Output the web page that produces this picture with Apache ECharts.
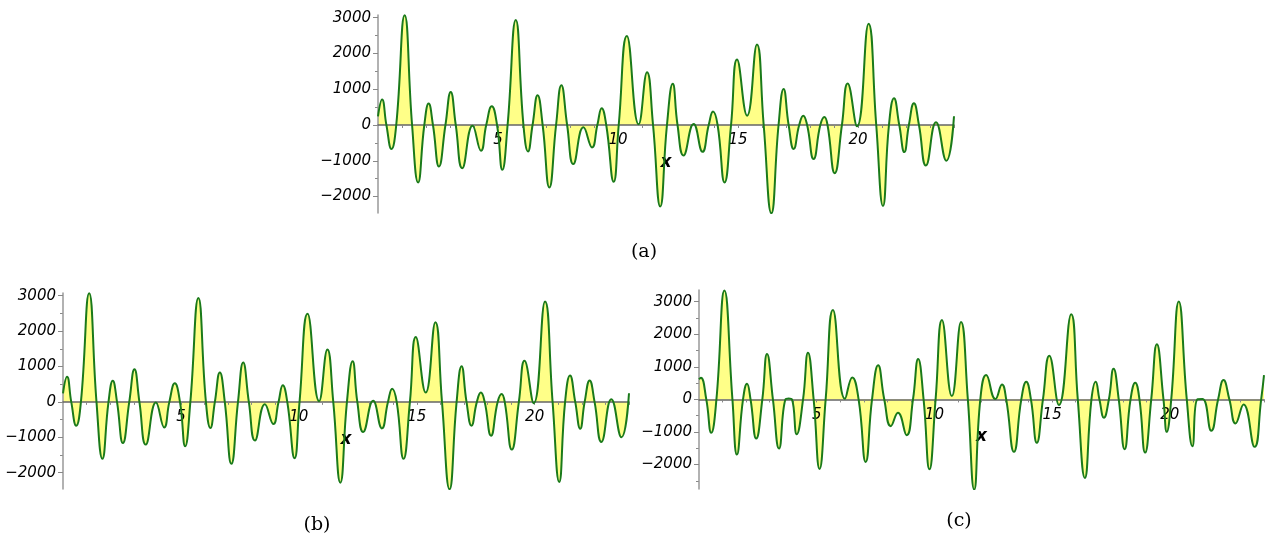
<!DOCTYPE html>
<html><head><meta charset="utf-8">
<script src="https://cdn.jsdelivr.net/npm/echarts@6/dist/echarts.min.js"></script>
<style>html,body{margin:0;padding:0;background:#fff}#c{width:1271px;height:538px}</style>
</head><body><div id="c"></div>
<script>
// Panels (a) and (b): same curve
const hoursAB = [0, 0.17, 0.35, 0.56, 0.76, 1.11, 1.42, 1.67, 1.93, 2.11, 2.29, 2.54, 2.81, 3.03, 3.24, 3.51, 3.94, 4.29, 4.51, 4.74, 4.96, 5.18, 5.40, 5.74, 6.06, 6.25, 6.44, 6.65, 6.86, 7.14, 7.42, 7.64, 7.88, 8.14, 8.56, 8.92, 9.14, 9.32, 9.51, 9.82, 10.03, 10.37, 10.86, 11.21, 11.46, 11.76, 12.04, 12.28, 12.48, 12.73, 13.15, 13.52, 13.78, 13.96, 14.15, 14.44, 14.71, 14.96, 15.38, 15.79, 16.07, 16.39, 16.69, 16.90, 17.11, 17.32, 17.55, 17.72, 17.88, 18.15, 18.43, 18.60, 18.73, 19.03, 19.33, 19.57, 19.96, 20.44, 20.76, 21.04, 21.29, 21.50, 21.72, 21.93, 22.12, 22.33, 22.54, 22.83, 23.25, 23.68, 24];
const valuesAB = [243, 710, 0, -673, 0, 3065, 0, -1607, 0, 598, 0, -1159, 0, 925, 0, -1206, -20, -720, 0, 523, 0, -1252, 0, 2935, 0, -738, 0, 832, 0, -1748, 0, 1112, 0, -1093, -65, -626, 0, 467, 0, -1589, 0, 2486, 20, 1477, 0, -2280, 0, 1150, 0, -850, 30, -748, 0, 374, 0, -1607, 0, 1832, 262, 2252, 0, -2467, 0, 1009, 0, -673, 0, 262, 0, -953, 0, 224, 0, -1346, 0, 1159, -37, 2832, 0, -2262, 0, 748, 0, -757, 0, 607, 0, -1131, 75, -1000, 243];
// Panel (c)
const hoursC = [0, 0.08, 0.31, 0.52, 0.74, 1.08, 1.42, 1.61, 1.87, 2.04, 2.19, 2.43, 2.69, 2.89, 3.14, 3.40, 3.67, 3.81, 3.95, 4.15, 4.42, 4.63, 4.87, 5.12, 5.38, 5.69, 6.20, 6.51, 6.78, 7.08, 7.35, 7.61, 7.87, 8.15, 8.45, 8.82, 9.09, 9.31, 9.54, 9.79, 10.05, 10.32, 10.74, 11.13, 11.42, 11.69, 11.95, 12.20, 12.59, 12.87, 13.05, 13.38, 13.69, 13.90, 14.10, 14.35, 14.61, 14.88, 15.29, 15.81, 16.09, 16.39, 16.67, 16.85, 17.01, 17.20, 17.41, 17.61, 17.83, 18.08, 18.33, 18.53, 18.71, 18.95, 19.21, 19.45, 19.73, 19.87, 20.06, 20.38, 20.72, 20.96, 21.17, 21.39, 21.76, 22.05, 22.28, 22.53, 22.79, 23.13, 23.60, 23.88, 24];
const valuesC = [620, 667, 0, -1026, 0, 3344, 0, -1692, 0, 482, 0, -1200, 0, 1395, 0, -1508, 0, 30, 0, -1067, 0, 1436, 0, -2133, 0, 2749, 20, 677, 0, -1918, 0, 1046, 0, -820, -410, -1097, 0, 1241, 0, -2144, 0, 2441, 103, 2380, 0, -2769, 0, 749, 10, 462, 0, -1610, 0, 544, 0, -1333, 0, 1344, -174, 2615, 0, -2410, 0, 544, 0, -564, 0, 944, 0, -1528, 0, 513, 0, -1631, 0, 1692, 0, -995, 0, 3005, 0, -1436, 0, 10, -964, 0, 595, 0, -738, -154, -1456, 0, 749];

const yLabelValues = [-2000, -1000, 0, 1000, 2000, 3000];
const yMinorAB = [-1500, -500, 500, 1500, 2500];
const yMinorC = [-2500, -1500, -500, 500, 1500, 2500];
const xLabelValues = [5, 10, 15, 20];
const xTickValues = [1,2,3,4,5,6,7,8,9,10,11,12,13,14,15,16,17,18,19,20,21,22,23,24];
const captions = ['(a)', '(b)', '(c)'];

const panels = [
  {grid: {left: 378, top: 15, width: 576, height: 198}, ymin: -2460, ymax: 3075, minor: yMinorAB, hours: hoursAB, values: valuesAB, cap: [644, 252]},
  {grid: {left: 63, top: 293, width: 566, height: 196}, ymin: -2460, ymax: 3075, minor: yMinorAB, hours: hoursAB, values: valuesAB, cap: [317, 525]},
  {grid: {left: 699, top: 290, width: 565, height: 199}, ymin: -2750, ymax: 3360, minor: yMinorC, hours: hoursC, values: valuesC, cap: [959, 521]}
];

const FONT = 'DejaVu Sans';
const fmt = v => v < 0 ? '\u2212' + Math.abs(v) : String(v);
const grids = [], xAxes = [], yAxes = [], series = [], graphics = [];
panels.forEach((p, i) => {
  grids.push(Object.assign({containLabel: false}, p.grid));
  // move the x axis up from the grid bottom to the zero line
  const zeroOffset = -p.grid.height * (0 - p.ymin) / (p.ymax - p.ymin);
  xAxes.push({
    type: 'value', gridIndex: i, min: 0, max: 24, z: 2,
    position: 'bottom', offset: zeroOffset,
    name: 'x', nameLocation: 'middle', nameGap: 29,
    nameTextStyle: {fontFamily: FONT, fontStyle: 'italic', fontWeight: 'bold', fontSize: 17, color: '#000'},
    axisLine: {onZero: false, lineStyle: {color: '#666', width: 1.5}},
    axisTick: {show: true, length: 3, customValues: xTickValues, lineStyle: {color: '#888'}},
    axisLabel: {customValues: xLabelValues, margin: 8, fontFamily: FONT, fontStyle: 'italic', fontSize: 15, color: '#000'},
    splitLine: {show: false}
  });
  const yi = yAxes.length;
  yAxes.push({
    type: 'value', gridIndex: i, min: p.ymin, max: p.ymax, z: 2,
    axisLine: {show: true, onZero: false, lineStyle: {color: '#999', width: 1.5}},
    axisTick: {show: true, length: 5, customValues: yLabelValues, lineStyle: {color: '#888'}},
    axisLabel: {customValues: yLabelValues, margin: 7, formatter: fmt, fontFamily: FONT, fontStyle: 'italic', fontSize: 15, color: '#000'},
    splitLine: {show: false}
  });
  yAxes.push({
    type: 'value', gridIndex: i, min: p.ymin, max: p.ymax, position: 'left',
    axisLine: {show: false, onZero: false},
    axisTick: {show: true, length: 3, customValues: p.minor, lineStyle: {color: '#888'}},
    axisLabel: {show: false},
    splitLine: {show: false}
  });
  const data = p.hours.map((h, k) => [h, p.values[k]]);
  series.push({
    type: 'line', xAxisIndex: i, yAxisIndex: yi, data: data, smooth: 0.5,
    symbol: 'none', z: 1, silent: true,
    lineStyle: {width: 0, opacity: 0},
    areaStyle: {color: '#ffff88', opacity: 1}
  });
  series.push({
    type: 'line', xAxisIndex: i, yAxisIndex: yi, data: data, smooth: 0.5,
    symbol: 'none', z: 3, silent: true,
    lineStyle: {width: 2, color: '#1a7a1a'}
  });
  graphics.push({
    type: 'text', x: p.cap[0], y: p.cap[1],
    style: {text: captions[i], fontFamily: 'DejaVu Serif', fontSize: 19, fill: '#000', textAlign: 'center', textVerticalAlign: 'middle'}
  });
});

const chart = echarts.init(document.getElementById('c'), null, {renderer: 'canvas'});
chart.setOption({
  animation: false,
  backgroundColor: '#fff',
  grid: grids, xAxis: xAxes, yAxis: yAxes, series: series,
  graphic: graphics
});
</script>
</body></html>
